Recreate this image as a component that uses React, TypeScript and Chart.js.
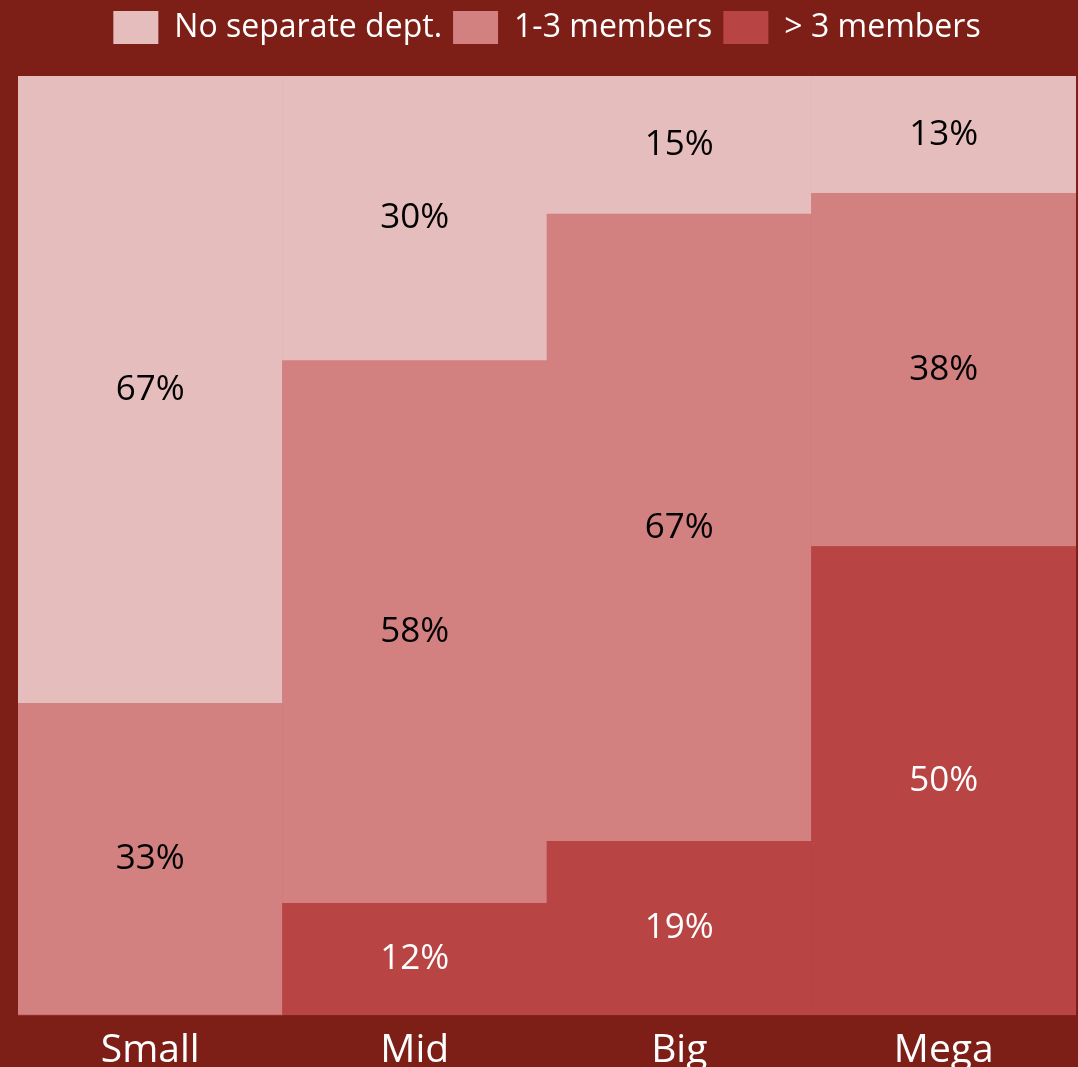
import React, { useEffect, useRef } from "react";
import { Chart, registerables } from "chart.js";

Chart.register(...registerables);

const categories = ["Small", "Mid", "Big", "Mega"];
const seriesLabels = ["> 3 members", "1-3 members", "No separate dept."];
const moreThan3 = [0, 11.9, 18.5, 49.9];
const oneToThree = [33.2, 57.8, 66.8, 37.6];
const noDept = [66.8, 30.3, 14.7, 12.5];

const BG = "#7D1F17";
const COLORS = ["#B94444", "#D28080", "#E6BDBD"];
const LABEL_COLORS = ["#FFFFFF", "#000000", "#000000"];
const FONT = "'Open Sans', sans-serif";

export default function App() {
  const ref = useRef<HTMLCanvasElement | null>(null);

  useEffect(() => {
    document.body.style.margin = "0";
    document.body.style.background = BG;
    const canvas = ref.current;
    if (!canvas) return;

    const bgPlugin = {
      id: "bg",
      beforeDraw(chart: any) {
        const { ctx, width, height } = chart;
        ctx.save();
        ctx.fillStyle = BG;
        ctx.fillRect(0, 0, width, height);
        ctx.restore();
      },
    };

    const legendMargin = {
      id: "legendMargin",
      beforeInit(chart: any) {
        const orig = chart.legend.fit;
        chart.legend.fit = function fit() {
          orig.bind(chart.legend)();
          this.height += 22;
        };
      },
    };

    const valueLabels = {
      id: "valueLabels",
      afterDatasetsDraw(chart: any) {
        const { ctx } = chart;
        ctx.save();
        ctx.font = `35px ${FONT}`;
        ctx.textAlign = "center";
        ctx.textBaseline = "middle";
        chart.data.datasets.forEach((ds: any, di: number) => {
          const meta = chart.getDatasetMeta(di);
          meta.data.forEach((el: any, i: number) => {
            const v = ds.data[i];
            if (!v) return;
            const { x, y, base } = el.getProps(["x", "y", "base"], true);
            ctx.fillStyle = LABEL_COLORS[di];
            ctx.fillText(`${Math.round(v)}%`, x, (y + base) / 2);
          });
        });
        ctx.restore();
      },
    };

    const chart = new Chart(canvas, {
      type: "bar",
      data: {
        labels: categories,
        datasets: [moreThan3, oneToThree, noDept].map((d, i) => ({
          label: seriesLabels[i],
          data: d,
          backgroundColor: COLORS[i],
          borderWidth: 0,
          barPercentage: 1,
          categoryPercentage: 1,
        })),
      },
      options: {
        responsive: false,
        animation: false,
        layout: { padding: { left: 18, right: 2, top: 0, bottom: 0 } },
        plugins: {
          legend: {
            reverse: true,
            labels: {
              color: "#FFFFFF",
              font: { family: FONT, size: 32 },
              boxWidth: 45,
              boxHeight: 33,
              padding: 11,
            },
          },
          tooltip: { enabled: false },
        },
        scales: {
          x: {
            stacked: true,
            grid: { display: false, drawTicks: false },
            border: { display: false },
            ticks: { color: "#FFFFFF", font: { family: FONT, size: 39 }, padding: 12 },
          },
          y: {
            stacked: true,
            display: false,
            min: 0,
            max: 100,
          },
        },
      },
      plugins: [bgPlugin, legendMargin, valueLabels],
    });
    return () => chart.destroy();
  }, []);

  return <canvas ref={ref} width={1078} height={1086} style={{ display: "block" }} />;
}
